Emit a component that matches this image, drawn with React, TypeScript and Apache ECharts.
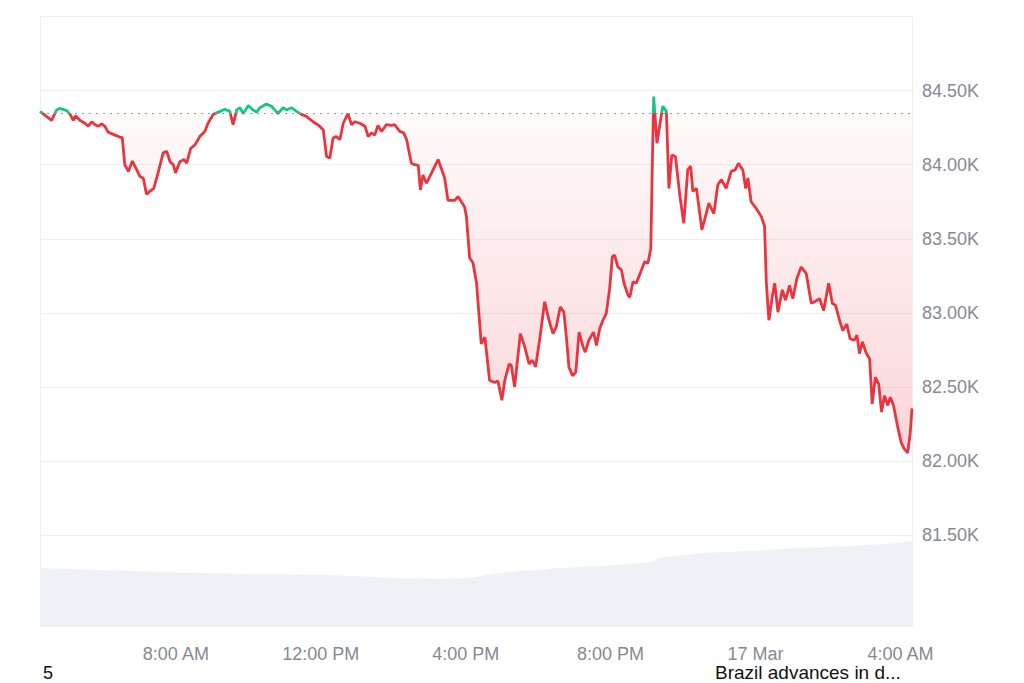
import React, { useEffect, useRef } from "react";
import * as echarts from "echarts";

// Hours since 16 Mar 00:00
const priceTimes = [4.25,4.57,4.71,4.80,4.99,5.08,5.17,5.23,5.35,5.49,5.58,5.68,5.77,5.86,5.95,6.04,6.13,6.27,6.37,6.46,6.52,6.59,6.69,6.80,6.92,7.01,7.10,7.19,7.28,7.39,7.51,7.65,7.75,7.84,7.93,7.99,8.11,8.23,8.30,8.41,8.53,8.66,8.80,8.89,9.03,9.22,9.35,9.49,9.58,9.68,9.77,9.86,10.00,10.13,10.23,10.32,10.50,10.64,10.82,10.96,11.06,11.19,11.33,11.47,11.61,11.79,11.97,12.07,12.16,12.25,12.34,12.43,12.53,12.62,12.75,12.85,12.94,13.08,13.22,13.31,13.40,13.49,13.58,13.68,13.81,13.95,14.04,14.18,14.29,14.37,14.50,14.59,14.69,14.75,14.82,14.92,15.10,15.24,15.42,15.51,15.70,15.79,15.97,16.02,16.11,16.20,16.30,16.43,16.53,16.66,16.80,16.89,17.00,17.08,17.20,17.26,17.35,17.51,17.63,17.75,17.84,17.93,18.04,18.18,18.30,18.41,18.50,18.61,18.71,18.78,18.85,18.95,19.04,19.13,19.24,19.30,19.40,19.53,19.61,19.70,19.79,19.88,19.97,20.05,20.11,20.20,20.30,20.37,20.48,20.53,20.62,20.71,20.83,20.94,21.03,21.11,21.15,21.19,21.28,21.44,21.54,21.61,21.69,21.79,21.91,22.02,22.13,22.21,22.27,22.37,22.52,22.64,22.71,22.85,22.96,23.06,23.19,23.33,23.44,23.53,23.65,23.73,23.79,23.88,24.02,24.16,24.25,24.30,24.37,24.46,24.53,24.62,24.74,24.83,24.94,25.03,25.14,25.26,25.40,25.54,25.63,25.77,25.88,26.02,26.12,26.21,26.32,26.41,26.52,26.61,26.73,26.80,26.87,26.95,27.06,27.15,27.22,27.31,27.40,27.48,27.56,27.65,27.72,27.81,27.93,28.02,28.11,28.20,28.27,28.32];

const priceValues = [84360,84300,84370,84380,84365,84340,84300,84330,84300,84280,84260,84290,84270,84260,84275,84260,84220,84205,84195,84185,84185,84000,83955,84025,83965,83920,83910,83800,83820,83840,83945,84080,84090,84020,84000,83945,84020,84035,84010,84110,84135,84190,84225,84280,84340,84360,84375,84360,84270,84370,84385,84345,84400,84370,84355,84385,84410,84395,84345,84385,84370,84385,84360,84340,84325,84290,84260,84235,84055,84045,84180,84190,84170,84280,84345,84270,84290,84280,84260,84190,84215,84200,84265,84225,84270,84265,84270,84225,84215,84170,84010,84000,83995,83830,83930,83875,83965,84035,83910,83760,83760,83785,83715,83650,83370,83340,83200,82790,82835,82545,82530,82540,82410,82545,82655,82645,82500,82860,82770,82655,82680,82635,82815,83075,82950,82860,82905,83040,83005,82835,82635,82575,82600,82870,82770,82735,82815,82870,82780,82895,82950,82995,83155,83380,83390,83310,83290,83200,83120,83105,83210,83200,83275,83345,83335,83435,83975,84460,84145,84395,84360,83840,84065,84055,83795,83605,83965,83990,83820,83840,83560,83670,83740,83670,83865,83900,83840,83955,83965,84010,83965,83840,83910,83750,83705,83650,83585,83200,82950,83105,83200,83005,83155,83085,83185,83095,83230,83310,83265,83065,83075,83095,83015,83200,83065,83050,82950,82880,82925,82825,82815,82850,82725,82805,82725,82690,82385,82565,82520,82330,82440,82375,82430,82375,82225,82125,82080,82055,82185,82355];

const openPrice = 84350;

const volumeTimes = [4.25,5.9,8.66,10.32,12.25,14.18,15.28,16.11,16.94,17.5,18.6,20.25,21.15,21.35,22.46,23.84,25.2,26.6,27.97,28.32];
const volumeValues = [59,57,54,53,52,49,48,49,54,56,59,62,65,69,74,76,79,81,84,86];

const xTickHours = [8, 12, 16, 20, 24, 28];
const xTickLabels = ["8:00 AM", "12:00 PM", "4:00 PM", "8:00 PM", "17 Mar", "4:00 AM"];

const yMin = 81000;
const yMax = 85000;
const yStep = 500;

const timeMin = 4.25;
const timeMax = 28.32;
const labelAxisMin = 0;
const labelAxisStep = 4;

const FONT = "'Liberation Sans', Arial, sans-serif";

const W = 1024;
const H = 683;
const PLOT_LEFT = 40;
const PLOT_RIGHT_PX = 912;
const PRICE_TOP = 16.6;
const PRICE_BOTTOM = 73.9;

const UP = "#16c784";
const DOWN = "#e8353f";

export default function App() {
  const ref = useRef<HTMLDivElement>(null);
  useEffect(() => {
    if (!ref.current) return;
    const chart = echarts.init(ref.current, undefined, { renderer: "svg" });
    const n = Math.min(priceTimes.length, priceValues.length);
    const priceData: number[][] = [];
    for (let i = 0; i < n; i++) priceData.push([priceTimes[i], priceValues[i]]);
    const volData = volumeTimes.map((t, i) => [t, volumeValues[i]]);

    // label axis starts at 0h so that interval 4 gives 8:00, 12:00 ... ticks
    const pxPerHour = (PLOT_RIGHT_PX - PLOT_LEFT) / (timeMax - timeMin);
    const labelGridLeft = PLOT_LEFT - (timeMin - labelAxisMin) * pxPerHour;

    // pixel row of the open price, for the hard colour switch of the line
    const plotH = H - PRICE_TOP - PRICE_BOTTOM;
    const openY = PRICE_TOP + ((yMax - openPrice) / (yMax - yMin)) * plotH;
    const f = openY / H;
    const lineGrad = new echarts.graphic.LinearGradient(
      0, 0, 0, H,
      [
        { offset: 0, color: UP },
        { offset: f, color: UP },
        { offset: f, color: DOWN },
        { offset: 1, color: DOWN },
      ],
      true
    );

    chart.setOption({
      animation: false,
      backgroundColor: "#ffffff",
      textStyle: { fontFamily: FONT },
      grid: [
        {
          left: PLOT_LEFT,
          right: W - PLOT_RIGHT_PX,
          top: PRICE_TOP,
          bottom: PRICE_BOTTOM,
          outerBoundsMode: "none",
          containLabel: false,
        },
        {
          left: labelGridLeft,
          right: W - PLOT_RIGHT_PX,
          top: 527,
          bottom: 56,
          outerBoundsMode: "none",
          containLabel: false,
        },
      ],
      xAxis: [
        { type: "value", gridIndex: 0, min: timeMin, max: timeMax, show: false },
        {
          type: "value",
          gridIndex: 1,
          min: labelAxisMin,
          max: timeMax,
          interval: labelAxisStep,
          axisLine: { show: false },
          axisTick: { show: false },
          splitLine: { show: false },
          axisLabel: {
            showMinLabel: false,
            showMaxLabel: false,
            color: "#858a94",
            fontSize: 18,
            fontFamily: FONT,
            margin: 18,
            formatter: (v: number) => {
              const i = xTickHours.indexOf(v);
              return i >= 0 ? xTickLabels[i] : "";
            },
          },
        },
      ],
      yAxis: [
        {
          type: "value",
          gridIndex: 0,
          position: "right",
          min: yMin,
          max: yMax,
          interval: yStep,
          axisLine: { show: false },
          axisTick: { show: false },
          splitLine: {
            show: true,
            showMinLine: false,
            lineStyle: { color: "#efefef", width: 1 },
          },
          axisLabel: {
            showMinLabel: false,
            showMaxLabel: false,
            color: "#858a94",
            fontSize: 18,
            fontFamily: FONT,
            margin: 10,
            formatter: (v: number) => (v === yMin || v === yMax ? "" : (v / 1000).toFixed(2) + "K"),
          },
        },
        { type: "value", gridIndex: 1, min: 0, max: 100, show: false },
      ],
      graphic: [
        {
          type: "line",
          shape: { x1: 40.5, y1: PRICE_TOP, x2: 40.5, y2: 627 },
          style: { stroke: "#f0f0f0", lineWidth: 1 },
          z: -1,
        },
        {
          type: "line",
          shape: { x1: 912.5, y1: PRICE_TOP, x2: 912.5, y2: 627 },
          style: { stroke: "#f0f0f0", lineWidth: 1 },
          z: -1,
        },
        {
          type: "text",
          left: 43,
          top: 664,
          style: { text: "5", fill: "#111", fontSize: 18, fontFamily: FONT },
        },
        {
          type: "text",
          left: 715,
          top: 663,
          style: { text: "Brazil advances in d...", fill: "#111", fontSize: 19, fontFamily: FONT },
        },
      ],
      series: [
        {
          type: "line",
          xAxisIndex: 0,
          yAxisIndex: 0,
          data: priceData,
          showSymbol: false,
          symbol: "none",
          lineStyle: { width: 2.8, color: lineGrad },
          itemStyle: { color: DOWN },
          z: 3,
          areaStyle: {
            origin: openPrice,
            color: new echarts.graphic.LinearGradient(0, 0, 0, 1, [
              { offset: 0, color: "rgba(234,57,67,0.02)" },
              { offset: 1, color: "rgba(234,57,67,0.30)" },
            ]),
          },
          markLine: {
            silent: true,
            symbol: "none",
            label: { show: false },
            lineStyle: { color: "#9a9a9a", type: [2, 5], width: 1 },
            data: [{ yAxis: openPrice }],
          },
        },
        {
          type: "line",
          xAxisIndex: 1,
          yAxisIndex: 1,
          data: volData,
          showSymbol: false,
          symbol: "none",
          lineStyle: { width: 0 },
          areaStyle: { color: "#eef1f5", opacity: 1 },
          z: 1,
        },
      ],
    });
    return () => chart.dispose();
  }, []);

  return (
    <div
      ref={ref}
      style={{ position: "fixed", left: 0, top: 0, width: W, height: H, background: "#fff" }}
    />
  );
}
